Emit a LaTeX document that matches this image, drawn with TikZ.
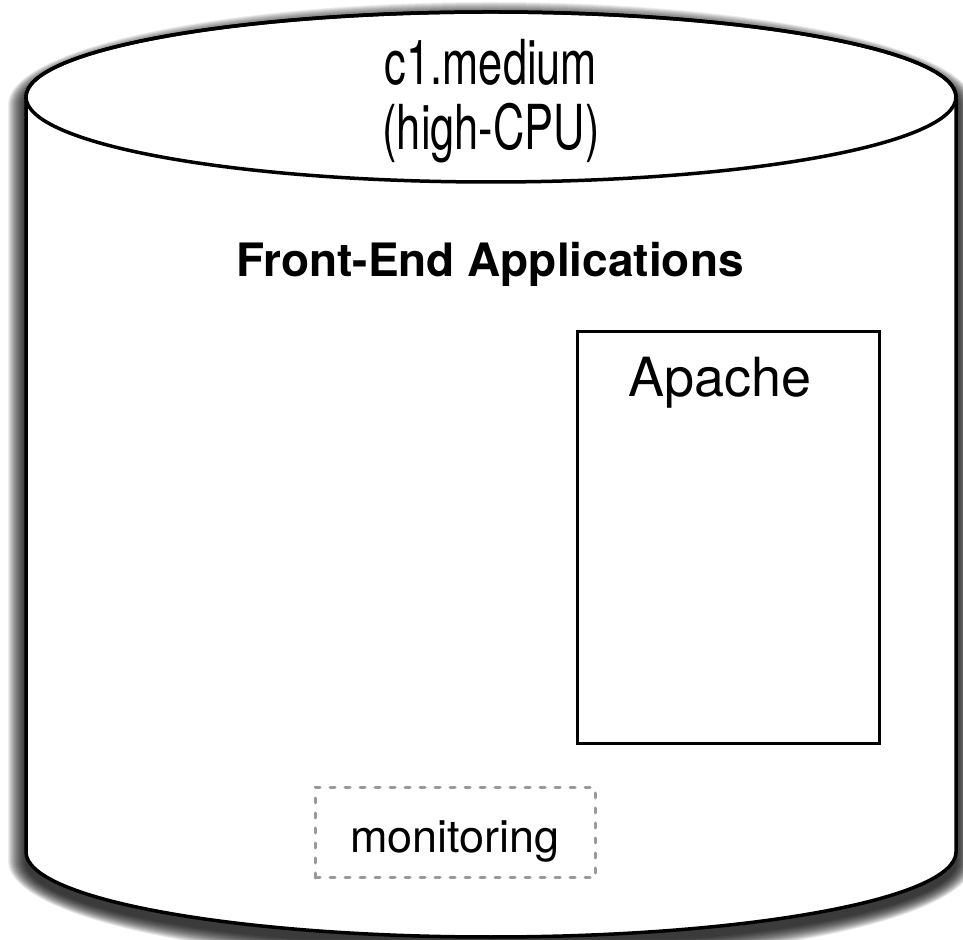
\documentclass[tikz,border=0pt]{standalone}
\usepackage{fontspec}
\setmainfont{TeX Gyre Heros}
\tikzset{
  cyl/.style={line width=3.5pt, draw=black, fill=white},
  boxline/.style={line width=3pt, draw=black},
  dashbox/.style={line width=3pt, draw=black!40, dash pattern=on 5pt off 10pt, line cap=round},
  toptxt/.style={font=\fontsize{62}{68}\selectfont, anchor=base, inner sep=0pt, xscale=0.7, transform shape},
  bigtxt/.style={font=\fontsize{54}{60}\selectfont, anchor=base, inner sep=0pt},
  boldtxt/.style={font=\fontsize{46}{52}\selectfont\bfseries, anchor=base, inner sep=0pt},
  montxt/.style={font=\fontsize{45}{50}\selectfont, anchor=base, inner sep=0pt}
}
\begin{document}
\begin{tikzpicture}[x=1pt,y=1pt]
\useasboundingbox (0,0) rectangle (963,939);
\fill[white] (0,0) rectangle (963,939);
% soft shadow
\foreach \i in {1,...,18}{
  \fill[black,opacity=0.075] (26-\i,834) -- (26-\i,78)
    arc[start angle=180,end angle=360,x radius=465+\i,y radius=85+\i]
    -- (956+\i,834)
    arc[start angle=0,end angle=180,x radius=465+\i,y radius=85+\i] -- cycle;
}
% cylinder body
\path[cyl] (26,842) -- (26,87)
  arc[start angle=180,end angle=360,x radius=465,y radius=85]
  -- (956,842)
  arc[start angle=0,end angle=180,x radius=465,y radius=85] -- cycle;
\draw[line width=3.5pt] (491,842) ellipse[x radius=465,y radius=85];
% texts on top
\node[toptxt] (type) at (491,854) {c1.medium};
\node[toptxt] (cpu) at (491,789) {(high-CPU)};
\node[boldtxt] (fe) at (490,662) {Front-End Applications};
% Apache box
\draw[boxline] (577,195) rectangle (879,607);
\node[bigtxt] (apache) at (720,542) {Apache};
% monitoring box
\draw[dashbox] (315,61) rectangle (595,151);
\node[montxt] (mon) at (455,86) {monitoring};
\end{tikzpicture}
\end{document}
